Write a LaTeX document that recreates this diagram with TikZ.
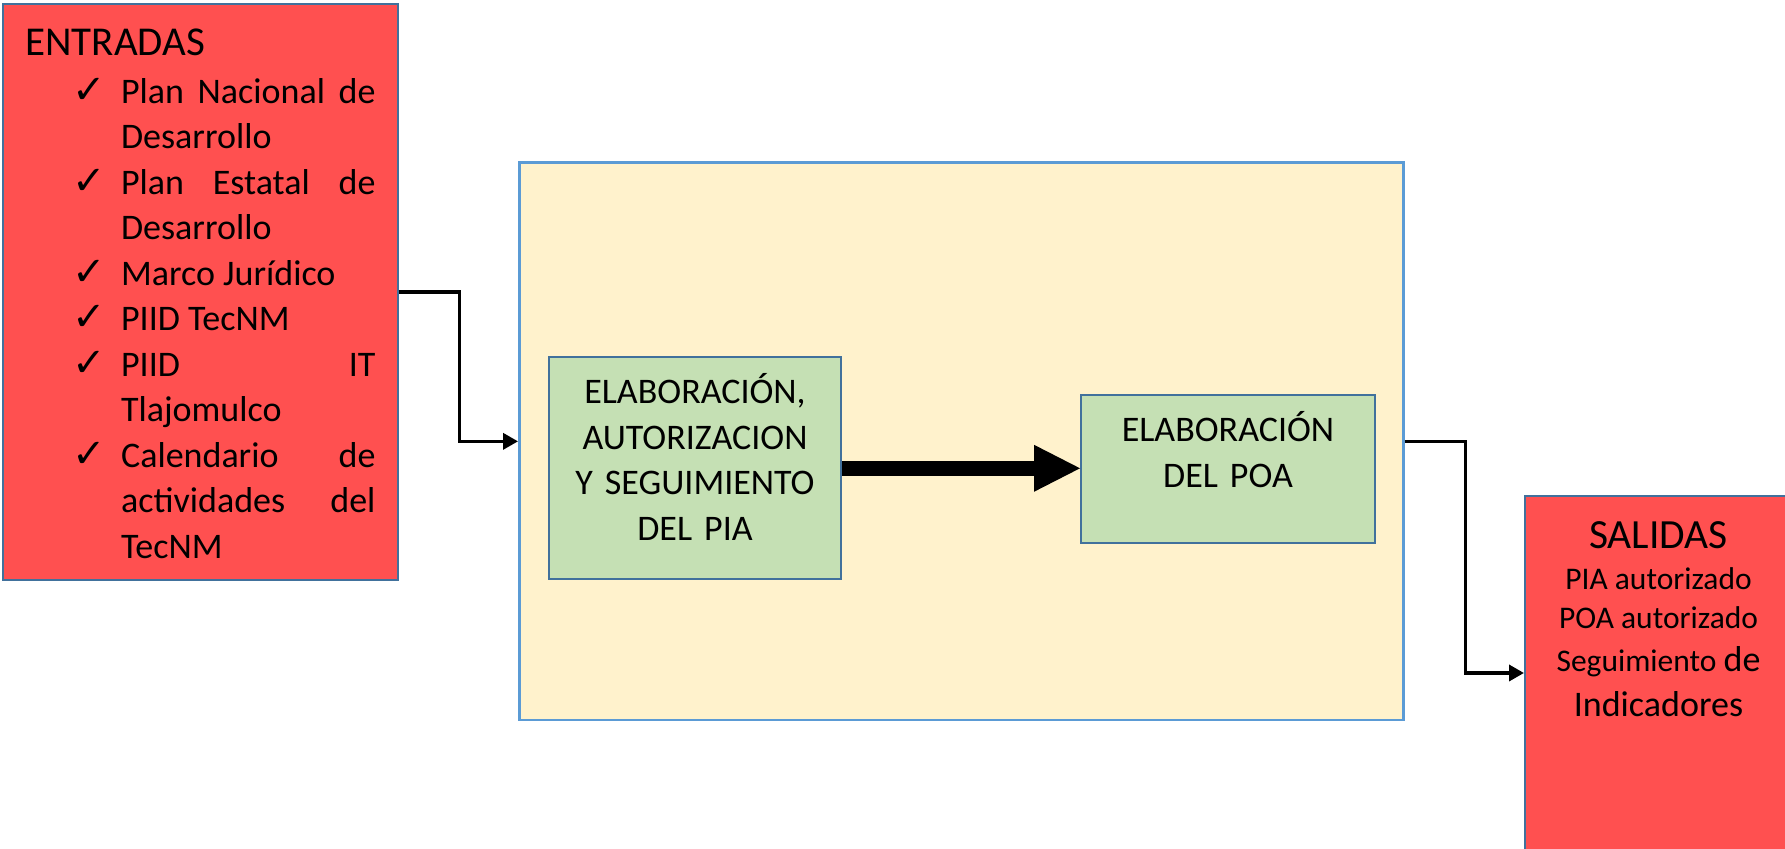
\documentclass[tikz,border=0pt]{standalone}
\usepackage{fontspec}
\setmainfont{Carlito}
\newfontfamily\chkfont{DejaVu Sans}
\usetikzlibrary{arrows.meta}

\definecolor{rojo}{HTML}{FF5050}
\definecolor{crema}{HTML}{FFF2CC}
\definecolor{verde}{HTML}{C5E0B4}
\definecolor{bordeazul}{HTML}{41719C}
\definecolor{bordeclaro}{HTML}{5B9BD5}

\newcommand{\chk}[1]{\noindent\llap{{\chkfont\bfseries\fontsize{20}{20}\selectfont ✓}\hspace{7.5pt}}#1\par}

\begin{document}
\begin{tikzpicture}[x=0.5pt, y=-0.5pt,
    caja/.style={draw=bordeazul, line width=1pt, inner sep=0pt},
    conector/.style={line width=1.75pt, -{Triangle[length=7.5pt,width=8pt]}},
    flecha/.style={line width=7.75pt, -{Triangle[length=23pt,width=23.5pt,line width=0pt]}},
    texto/.style={inner sep=0pt, font=\fontsize{18}{22.75}\selectfont}]
    \useasboundingbox (0,0) rectangle (1785,849);
    \clip (0,0) rectangle (1785,849);

    %cajas
    \node[caja, fill=rojo, minimum width=197.25pt, minimum height=288pt] (entradas) at (200.25,292) {};
    \node[caja, draw=bordeclaro, line width=1.25pt, fill=crema, minimum width=442pt, minimum height=278.65pt] (proceso) at (961.3,441.35) {};
    \node[caja, fill=verde, minimum width=146pt, minimum height=111pt] (pia) at (695,468.3) {};
    \node[caja, fill=verde, minimum width=147pt, minimum height=73.85pt] (poa) at (1228,468.85) {};
    \node[caja, fill=rojo, minimum width=133.5pt, minimum height=177pt] (salidas) at (1658.5,673) {};

    %entradas
    \node[texto, anchor=base west, font=\fontsize{20.5}{24}\selectfont] (titentradas) at (25,56) {ENTRADAS};
    \node[texto, anchor=base west, text width=127.2pt, align=justify] (lista) at (120.7,103.3) {%
      \hyphenpenalty=10000\exhyphenpenalty=10000%
      \chk{Plan Nacional de\linebreak Desarrollo}%
      \chk{Plan Estatal de\linebreak Desarrollo}%
      \chk{Marco Jurídico}%
      \chk{PIID TecNM}%
      \chk{PIID IT\linebreak Tlajomulco}%
      \chk{Calendario de\linebreak actividades del\linebreak TecNM}};

    %proceso
    \node[texto, anchor=base, align=center, text width=140pt] (piatexto) at (695,404) {ELABORACIÓN,\\AUTORIZACION\\Y SEGUIMIENTO\\DEL PIA};
    \node[texto, anchor=base, align=center, text width=140pt] (poatexto) at (1228,441.7) {ELABORACIÓN\\DEL POA};

    %salidas
    \node[texto, anchor=base, font=\fontsize{20.75}{24}\selectfont] (titsalidas) at (1658.5,548.3) {SALIDAS};
    \node[texto, anchor=base, font=\fontsize{15.75}{19}\selectfont] (salpia) at (1658.5,590) {PIA autorizado};
    \node[texto, anchor=base, font=\fontsize{15.75}{19}\selectfont] (salpoa) at (1658.5,628.3) {POA autorizado};
    \node[texto, anchor=base, font=\fontsize{15.75}{19}\selectfont] (salseg) at (1658.5,671.7) {Seguimiento {\fontsize{18}{22}\selectfont de}};
    \node[texto, anchor=base] (salind) at (1658.5,716.7) {Indicadores};

    \draw[conector] (entradas.east) -- ++(61,0) |- (proceso.west);
    \draw[flecha] (pia.east) -- (pia.east -| poa.west);
    \draw[conector] (proceso.east) -- ++(60.7,0) |- (salidas.west);
\end{tikzpicture}
\end{document}
